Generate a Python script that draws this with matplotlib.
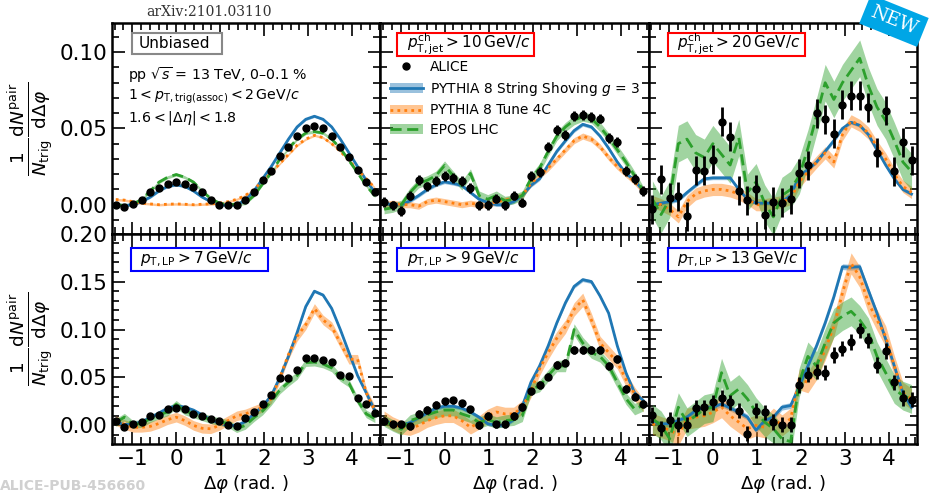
import numpy as np
import matplotlib
matplotlib.use("Agg")
import matplotlib.pyplot as plt
from matplotlib.patches import Rectangle, Patch
from matplotlib.lines import Line2D
from matplotlib.ticker import MultipleLocator, FormatStrFormatter

plt.rcParams['mathtext.fontset'] = 'dejavusans'
plt.rcParams['font.family'] = ['DejaVu Sans']

# bin centres (k * pi/16, k = -7 .. 23)
delta_phi = np.arange(-7, 24) * np.pi / 16

# ---------------- top-left: unbiased ----------------
alice_tl = [0.000, -0.0016, 0.0005, 0.003, 0.008, 0.011, 0.0136, 0.0152, 0.0136, 0.0114, 0.008, 0.0034, 0.000,
            -0.0005, 0.000, 0.003, 0.0086, 0.016, 0.022, 0.0316, 0.038, 0.0448, 0.050, 0.0516, 0.050, 0.0448, 0.038,
            0.0314, 0.0227, 0.0148, 0.008]
blue_tl = [0.000, -0.0005, 0.000, 0.002, 0.005, 0.009, 0.012, 0.013, 0.012, 0.009, 0.005, 0.002, 0.000, -0.0005,
           0.000, 0.003, 0.009, 0.017, 0.025, 0.034, 0.043, 0.051, 0.056, 0.058, 0.056, 0.051, 0.043, 0.034, 0.025,
           0.016, 0.008]
orange_tl = [0.0034, 0.003, 0.002, 0.001, 0.0005, 0.0, 0.0003, 0.0005, 0.0003, 0.0, 0.0003, 0.0005, 0.001, 0.002,
             0.0035, 0.006, 0.010, 0.0155, 0.021, 0.027, 0.033, 0.039, 0.043, 0.0455, 0.044, 0.040, 0.035, 0.029,
             0.023, 0.017, 0.011]
green_tl = [0.000, -0.0005, 0.0005, 0.0034, 0.009, 0.0148, 0.018, 0.0198, 0.018, 0.0148, 0.009, 0.004, 0.001, 0.000,
            0.0004, 0.001, 0.006, 0.0136, 0.021, 0.030, 0.037, 0.043, 0.047, 0.048, 0.047, 0.043, 0.037, 0.029, 0.021,
            0.0125, 0.0057]

# ---------------- top-middle: pT,jet > 10 ----------------
alice_tm = [0.002, -0.0005, -0.004, 0.006, 0.0164, 0.012, 0.0155, 0.019, 0.0176, 0.0153, 0.011, -0.0005, 0.000,
            0.004, -0.0005, 0.006, 0.0014, 0.019, 0.0216, 0.0378, 0.049, 0.0457, 0.058, 0.059, 0.0577, 0.0565,
            0.0435, 0.041, 0.022, 0.017, 0.009]
blue_tm = [0.001, 0.000, 0.000, 0.0025, 0.006, 0.010, 0.013, 0.015, 0.014, 0.0126, 0.008, 0.0036, 0.0014, 0.000,
           0.000, 0.002, 0.006, 0.0126, 0.017, 0.026, 0.035, 0.042, 0.0486, 0.0527, 0.051, 0.045, 0.037, 0.028,
           0.0205, 0.016, 0.009]
orange_tm = [0.000, 0.001, 0.000, 0.000, -0.001, 0.002, 0.003, 0.002, 0.001, 0.000, 0.001, 0.000, 0.000, 0.002,
             0.003, 0.004, 0.006, 0.014, 0.019, 0.024, 0.030, 0.036, 0.042, 0.045, 0.043, 0.038, 0.031, 0.025, 0.020,
             0.015, 0.009]
green_tm = [-0.003, -0.002, 0.000, 0.008, 0.014, 0.016, 0.019, 0.0257, 0.019, 0.0126, 0.0205, 0.006, 0.0036, 0.006,
            0.0025, 0.0036, 0.006, 0.017, 0.024, 0.035, 0.045, 0.051, 0.0554, 0.0577, 0.0565, 0.051, 0.044, 0.036,
            0.028, 0.019, 0.009]

# ---------------- top-right: pT,jet > 20 ----------------
alice_tr = [-0.003, 0.0167, 0.0047, 0.0054, -0.0077, 0.0227, 0.0223, 0.0295, 0.0543, 0.0446, 0.0092, 0.003, 0.010,
            -0.0065, 0.0018, 0.0013, 0.0036, 0.0205, 0.0257, 0.060, 0.056, 0.0464, 0.0655, 0.0716, 0.0716, 0.064,
            0.034, 0.0615, 0.022, 0.0408, 0.029]
blue_tr = [0.000, 0.001, 0.002, 0.003, 0.008, 0.0126, 0.017, 0.0176, 0.0176, 0.0176, 0.010, 0.0036, 0.001, 0.001,
           0.001, 0.002, 0.006, 0.019, 0.023, 0.028, 0.035, 0.042, 0.050, 0.054, 0.052, 0.046, 0.036, 0.026, 0.017,
           0.010, 0.007]
orange_tr = [0.002, 0.000, -0.003, -0.008, 0.002, 0.007, 0.009, 0.010, 0.010, 0.009, 0.007, 0.004, 0.000, 0.000,
             0.001, 0.002, 0.004, 0.015, 0.0216, 0.028, 0.034, 0.028, 0.046, 0.055, 0.052, 0.047, 0.038, 0.030,
             0.020, 0.012, 0.008]
green_tr = [0.0036, -0.0065, 0.0036, 0.040, 0.043, 0.034, 0.031, 0.040, 0.033, 0.026, 0.044, 0.008, 0.015, 0.001,
            -0.008, 0.006, 0.010, 0.019, 0.037, 0.058, 0.080, 0.069, 0.080, 0.088, 0.096, 0.078, 0.064, 0.055, 0.042,
            0.028, 0.0216]

# ---------------- bottom-left: pT,LP > 7 ----------------
alice_bl = [0.005, -0.002, 0.001, 0.0034, 0.0097, 0.011, 0.0166, 0.018, 0.0172, 0.0114, 0.0093, 0.0062, 0.005,
            0.0007, -0.001, 0.0076, 0.0138, 0.0224, 0.0317, 0.0493, 0.0493, 0.0576, 0.070, 0.070, 0.068, 0.0666,
            0.053, 0.052, 0.0286, 0.0224, 0.0131]
blue_bl = [0.003, 0.001, 0.001, 0.004, 0.008, 0.013, 0.018, 0.0207, 0.019, 0.016, 0.011, 0.006, 0.002, 0.000, 0.000,
           0.004, 0.012, 0.020, 0.031, 0.050, 0.072, 0.097, 0.124, 0.140, 0.136, 0.122, 0.100, 0.076, 0.052, 0.034,
           0.0155]
orange_bl = [0.005, 0.001, -0.002, -0.002, -0.001, 0.002, 0.006, 0.0086, 0.005, 0.000, -0.003, -0.0035, 0.000, 0.005,
             0.010, 0.012, 0.0155, 0.019, 0.028, 0.050, 0.074, 0.093, 0.105, 0.122, 0.110, 0.103, 0.086, 0.069,
             0.069, 0.034, 0.0155]
green_bl = [0.003, 0.0086, 0.001, 0.002, 0.007, 0.011, 0.014, 0.022, 0.015, 0.012, 0.009, 0.006, 0.004, 0.002,
            -0.0034, 0.000, 0.008, 0.015, 0.025, 0.037, 0.045, 0.052, 0.0655, 0.066, 0.064, 0.060, 0.050, 0.044,
            0.026, 0.012, 0.007]

# ---------------- bottom-middle: pT,LP > 9 ----------------
alice_bm = [0.005, 0.001, 0.001, -0.001, 0.012, 0.016, 0.0217, 0.025, 0.026, 0.023, 0.0166, 0.000, 0.0097, 0.001,
            0.001, 0.0097, 0.019, 0.0355, 0.042, 0.051, 0.0628, 0.0655, 0.079, 0.0786, 0.0786, 0.0786, 0.062, 0.069,
            0.038, 0.030, 0.0224]
blue_bm = [0.005, 0.002, 0.000, 0.003, 0.008, 0.013, 0.018, 0.020, 0.020, 0.018, 0.014, 0.0086, 0.0017, 0.000,
           0.000, 0.006, 0.020, 0.045, 0.062, 0.083, 0.107, 0.128, 0.145, 0.152, 0.150, 0.135, 0.117, 0.083, 0.055,
           0.034, 0.026]
orange_bm = [0.008, 0.002, -0.002, -0.0034, 0.000, 0.005, 0.008, 0.010, 0.010, 0.005, -0.002, 0.003, 0.010, 0.014,
             0.012, 0.012, 0.019, 0.036, 0.059, 0.076, 0.091, 0.103, 0.121, 0.131, 0.110, 0.086, 0.076, 0.066, 0.048,
             0.033, 0.021]
green_bm = [0.005, 0.000, -0.004, 0.005, 0.008, 0.011, 0.014, 0.016, 0.016, 0.012, 0.009, 0.003, 0.006, 0.003, 0.005,
            0.006, 0.010, 0.038, 0.041, 0.052, 0.062, 0.062, 0.100, 0.086, 0.076, 0.072, 0.062, 0.045, 0.028, 0.017,
            0.021]

# ---------------- bottom-right: pT,LP > 13 ----------------
alice_br = [0.011, -0.003, 0.006, 0.0007, 0.0007, 0.018, 0.019, 0.024, 0.0286, 0.024, 0.0155, -0.0086, 0.0155,
            0.0138, 0.0034, 0.0007, 0.0007, 0.042, 0.053, 0.056, 0.055, 0.0734, 0.080, 0.087, 0.099, 0.0886, 0.063,
            0.0776, 0.0448, 0.0286, 0.027]
blue_br = [0.0034, 0.0017, 0.0017, 0.005, 0.0086, 0.0155, 0.019, 0.019, 0.0224, 0.018, 0.0138, 0.0086, -0.005, 0.005,
           0.0086, 0.019, 0.0207, 0.041, 0.062, 0.083, 0.107, 0.134, 0.1655, 0.165, 0.1655, 0.141, 0.117, 0.090,
           0.062, 0.034, 0.019]
orange_br = [0.0017, -0.0017, -0.005, -0.010, 0.007, 0.0086, 0.010, 0.0138, 0.019, 0.010, 0.0034, -0.0034, 0.0,
             -0.002, 0.007, 0.0, 0.007, 0.048, 0.045, 0.0586, 0.079, 0.103, 0.138, 0.169, 0.155, 0.128, 0.110, 0.093,
             0.062, 0.034, 0.0276]
green_br = [0.007, 0.0, -0.014, 0.019, 0.0034, 0.010, 0.017, 0.019, 0.055, 0.031, 0.038, 0.0276, 0.0138, 0.0034,
            -0.0034, -0.014, -0.017, 0.045, 0.072, 0.062, 0.086, 0.107, 0.114, 0.119, 0.110, 0.097, 0.072, 0.055,
            0.038, 0.031, 0.0276]

# uncertainties per panel (data error, blue band, orange band, green band)
errors = {
    'tl': (0.0008, 0.0008, 0.0008, 0.0010),
    'tm': (0.0032, 0.0012, 0.0020, 0.0030),
    'tr': (0.0095, 0.0012, 0.0040, 0.0120),
    'bl': (0.0015, 0.0015, 0.0050, 0.0040),
    'bm': (0.0040, 0.0020, 0.0070, 0.0060),
    'br': (0.0080, 0.0030, 0.0110, 0.0150),
}

panel_labels = {
    'tl': None,
    'tm': r'$p_{\rm T,jet}^{\rm ch} > 10\,{\rm GeV}/c$',
    'tr': r'$p_{\rm T,jet}^{\rm ch} > 20\,{\rm GeV}/c$',
    'bl': r'$p_{\rm T,LP} > 7\,{\rm GeV}/c$',
    'bm': r'$p_{\rm T,LP} > 9\,{\rm GeV}/c$',
    'br': r'$p_{\rm T,LP} > 13\,{\rm GeV}/c$',
}

series = {
    'tl': (alice_tl, blue_tl, orange_tl, green_tl),
    'tm': (alice_tm, blue_tm, orange_tm, green_tm),
    'tr': (alice_tr, blue_tr, orange_tr, green_tr),
    'bl': (alice_bl, blue_bl, orange_bl, green_bl),
    'bm': (alice_bm, blue_bm, orange_bm, green_bm),
    'br': (alice_br, blue_br, orange_br, green_br),
}

C_BLUE = '#1f77b4'
C_ORANGE = '#ff7f0e'
C_GREEN = '#2ca02c'

fig, axes = plt.subplots(2, 3, figsize=(9.41, 4.94), dpi=100, sharex=True)
fig.subplots_adjust(left=0.119, right=0.9745, top=0.953, bottom=0.101, wspace=0, hspace=0)

keys = [['tl', 'tm', 'tr'], ['bl', 'bm', 'br']]
x = delta_phi
for r in range(2):
    for c in range(3):
        ax = axes[r, c]
        key = keys[r][c]
        alice, blue, orange, green = [np.asarray(s) for s in series[key]]
        ed, eb, eo, eg = errors[key]
        ax.fill_between(x, blue - eb, blue + eb, color=C_BLUE, alpha=0.45, lw=0, zorder=2)
        ax.plot(x, blue, color=C_BLUE, lw=2, zorder=3)
        ax.fill_between(x, orange - eo, orange + eo, color=C_ORANGE, alpha=0.45, lw=0, zorder=2)
        ax.plot(x, orange, color=C_ORANGE, lw=2, ls=(0, (1, 1.5)), zorder=3)
        ax.fill_between(x, green - eg, green + eg, color=C_GREEN, alpha=0.45, lw=0, zorder=2)
        ax.plot(x, green, color=C_GREEN, lw=2, ls=(0, (4, 2)), zorder=3)
        ax.errorbar(x, alice, yerr=ed, fmt='o', color='black', ms=5, elinewidth=2, capsize=0, zorder=5)

        ax.set_xlim(-1.46, 4.64)
        if r == 0:
            ax.set_ylim(-0.019, 0.119)
        else:
            ax.set_ylim(-0.0195, 0.2)
        ax.xaxis.set_major_locator(MultipleLocator(1))
        ax.xaxis.set_minor_locator(MultipleLocator(0.2))
        ax.yaxis.set_major_locator(MultipleLocator(0.05))
        ax.yaxis.set_minor_locator(MultipleLocator(0.01))
        ax.tick_params(which='both', direction='in', top=True, right=True, width=1.2, labelsize=15.5)
        ax.tick_params(which='major', length=9)
        ax.tick_params(which='minor', length=5)
        for sp in ax.spines.values():
            sp.set_linewidth(1.8)
        if c != 0:
            ax.tick_params(labelleft=False)
        else:
            ax.yaxis.set_major_formatter(FormatStrFormatter('%.2f'))
        if r == 1:
            ax.set_xlabel(r'$\Delta\varphi$ (rad. )', fontsize=13, labelpad=3)

        lab = panel_labels[key]
        if lab is not None:
            x0 = 0.071 if c != 1 else 0.063
            if r == 0:
                y0, h = 0.845, 0.107
                ec = 'red'
            else:
                y0, h = 0.822, 0.108
                ec = 'blue'
            ax.add_patch(Rectangle((x0, y0), 0.51, h, transform=ax.transAxes, fill=True, facecolor='white',
                                   edgecolor=ec, lw=1.5, zorder=6))
            ax.text(x0 + 0.035, y0 + h / 2 + 0.002, lab, transform=ax.transAxes, fontsize=11, va='center',
                    ha='left', zorder=7)

    axes[r, 0].set_ylabel(r'$\frac{1}{N_{\rm trig}}\frac{{\rm d}N^{\rm pair}}{{\rm d}\Delta\varphi}$',
                          fontsize=19, labelpad=2)

# top-left annotations
ax = axes[0, 0]
ax.add_patch(Rectangle((0.075, 0.856), 0.336, 0.096, transform=ax.transAxes, facecolor='white',
                       edgecolor='#888888', lw=1.5, zorder=6))
ax.text(0.10, 0.904, 'Unbiased', transform=ax.transAxes, fontsize=11, va='center', ha='left', zorder=7)
ax.text(0.06, 0.755, r'pp $\sqrt{s}$ = 13 TeV, 0–0.1 %', transform=ax.transAxes, fontsize=10.2, va='center')
ax.text(0.06, 0.652, r'$1 < p_{\rm T,trig(assoc)} < 2\,{\rm GeV}/c$', transform=ax.transAxes, fontsize=10.2,
        va='center')
ax.text(0.06, 0.548, r'$1.6 < |\Delta\eta| < 1.8$', transform=ax.transAxes, fontsize=10.2, va='center')

# legend in top-middle panel
handles = [
    Line2D([], [], color='black', marker='o', ls='none', ms=5),
    (Patch(facecolor=C_BLUE, alpha=0.45, lw=0), Line2D([], [], color=C_BLUE, lw=2)),
    (Patch(facecolor=C_ORANGE, alpha=0.45, lw=0), Line2D([], [], color=C_ORANGE, lw=2, ls=(0, (1, 1.5)))),
    (Patch(facecolor=C_GREEN, alpha=0.45, lw=0), Line2D([], [], color=C_GREEN, lw=2, ls=(0, (4, 2)))),
]
labels = ['ALICE', r'PYTHIA 8 String Shoving $g$ = 3', 'PYTHIA 8 Tune 4C', 'EPOS LHC']
axes[0, 1].legend(handles, labels, loc='upper left', bbox_to_anchor=(0.0, 0.872), frameon=False, fontsize=9.9,
                  handlelength=2.4, handletextpad=0.5, labelspacing=0.42, borderaxespad=0.3)

# header / watermarks
fig.text(0.222, 0.975, 'arXiv:2101.03110', family='DejaVu Serif', fontsize=10, color='#333333',
         ha='center', va='center')
fig.text(0.95, 0.958, 'NEW', family='DejaVu Serif', fontsize=13.5, color='white', rotation=-22,
         ha='center', va='center',
         bbox=dict(boxstyle='square,pad=0.35', facecolor='#00a6e6', edgecolor='none'))
fig.text(0.0, 0.002, 'ALICE-PUB-456660', fontsize=10, color='#d0d0d0', ha='left', va='bottom', weight='bold')

fig.savefig('out.png', dpi=100)
